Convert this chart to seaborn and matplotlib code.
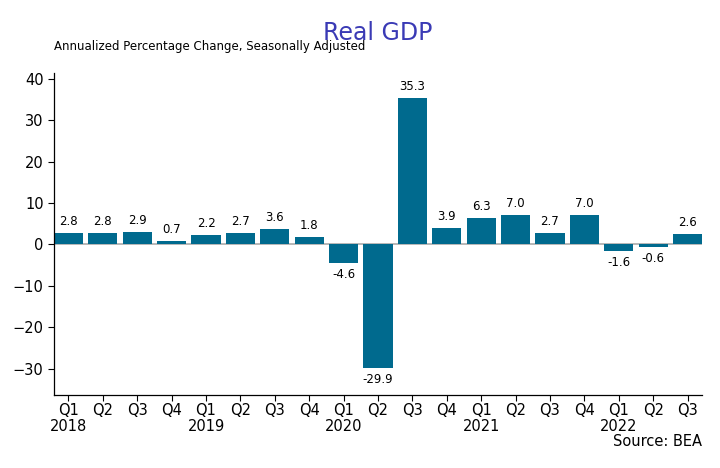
import pandas as pd
import numpy as np
import matplotlib
matplotlib.use("Agg")
import matplotlib.pyplot as plt
import seaborn as sns

# Quarterly real GDP growth, annualized %
quarters = ["Q1", "Q2", "Q3", "Q4"] * 4 + ["Q1", "Q2", "Q3"]
years = [2018] * 4 + [2019] * 4 + [2020] * 4 + [2021] * 4 + [2022] * 3
growth = [2.8, 2.8, 2.9, 0.7, 2.2, 2.7, 3.6, 1.8, -4.6, -29.9,
          35.3, 3.9, 6.3, 7.0, 2.7, 7.0, -1.6, -0.6, 2.6]

labels = [f"{q}\n{y}" if q == "Q1" else q for q, y in zip(quarters, years)]
df = pd.DataFrame({"period": [f"{y}{q}" for q, y in zip(quarters, years)],
                   "growth": growth})

sns.set_style("white")
plt.rcParams['font.family'] = ['DejaVu Sans']
plt.rcParams['text.color'] = 'black'
plt.rcParams['xtick.color'] = 'black'
plt.rcParams['ytick.color'] = 'black'

fig, ax = plt.subplots(figsize=(7.2, 4.68), dpi=100)
fig.subplots_adjust(left=0.075, right=0.975, top=0.845, bottom=0.155)

sns.barplot(data=df, x="period", y="growth", color="#006a8e",
            saturation=1, width=0.85, linewidth=0, edgecolor="none", ax=ax)

ax.axhline(0, color="#aaaaaa", linewidth=1.2, zorder=0)

for i, v in enumerate(growth):
    if v >= 0:
        ax.text(i, v + 1.2, f"{v:.1f}", ha="center", va="bottom", fontsize=8.5)
    else:
        ax.text(i, v - 1.2, f"{v:.1f}", ha="center", va="top", fontsize=8.5)

ax.set_xticks(range(len(labels)))
ax.set_xticklabels(labels, fontsize=10.5, linespacing=1.05)
ax.tick_params(axis="y", labelsize=10.5, left=True, length=4)
ax.tick_params(axis="x", bottom=True, length=4, pad=1.5)
ax.set_xlim(-0.42, len(growth) - 0.58)
ax.set_ylim(-36.5, 41.5)
ax.set_yticks([-30, -20, -10, 0, 10, 20, 30, 40])
ax.set_xlabel("")
ax.set_ylabel("")
sns.despine(ax=ax)
for s in ["left", "bottom"]:
    ax.spines[s].set_color("black")
    ax.spines[s].set_linewidth(0.9)

ax.set_title("Real GDP", color="#3a3ab5", fontsize=17, pad=23.5)
ax.text(0, 1.06, "Annualized Percentage Change, Seasonally Adjusted",
        transform=ax.transAxes, fontsize=8.5, ha="left", va="bottom")
fig.text(0.975, 0.04, "Source: BEA", ha="right", va="bottom", fontsize=10.5)

fig.savefig("out.png", dpi=100)
